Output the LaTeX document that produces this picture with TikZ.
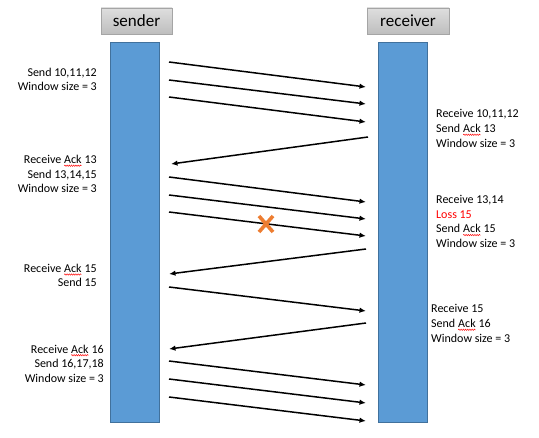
\documentclass[tikz,border=0pt]{standalone}
\usepackage{fontspec}
\setmainfont{Carlito}
\usetikzlibrary{arrows.meta,decorations.pathmorphing}
\newcommand\redwave[1]{\tikz[baseline=(w.base),x=1pt,y=1pt]{\node[inner sep=0pt,outer sep=0pt] (w) {#1};
  \draw[red,line width=0.45pt,decorate,decoration={snake,amplitude=0.7pt,segment length=2.2pt}]
    ([yshift=-2.2pt]w.base west) -- ([yshift=-2.2pt]w.base east);}}
\definecolor{barblue}{HTML}{5B9BD5}
\definecolor{barline}{HTML}{41719C}
\definecolor{hdrline}{HTML}{A5A5A5}
\definecolor{hdrtop}{HTML}{DEDEDE}
\definecolor{hdrbot}{HTML}{BEBEBE}
\definecolor{xorange}{HTML}{ED7D31}
\begin{document}
\begin{tikzpicture}[x=1pt,y=-1pt,
  header/.style={draw=hdrline, line width=0.8pt, top color=hdrtop, bottom color=hdrbot,
    inner sep=0pt, minimum height=26pt, font=\fontsize{17}{20}\selectfont},
  lifebar/.style={draw=barline, line width=0.8pt, fill=barblue, inner sep=0pt,
    minimum width=49pt, minimum height=380pt},
  msg/.style={line width=1.5pt, -{Latex[length=6.5pt,width=5.5pt]}},
  lbl/.style={inner sep=0pt, font=\fontsize{12}{14.6}\selectfont},
  lbll/.style={lbl, anchor=east, align=right},
  lblr/.style={lbl, anchor=west, align=left},
  lossmark/.style={draw=xorange, line width=3.6pt}
]
\useasboundingbox (0,0) rectangle (539,438);
% headers and bars
\node[header, minimum width=71pt] (sh) at (136.5,21) {sender};
\node[header, minimum width=82pt] (rh) at (408,21) {receiver};
\node[lifebar] (sb) at (134.5,232) {};
\node[lifebar] (rb) at (402.5,232) {};
% endpoints
\foreach \n/\y in {s1/62,s2/80,s3/97,s4/177,s5/195,s6/212,s7/287,s8/361,s9/379,s10/397}
  \coordinate (\n) at (169,\y);
\foreach \n/\y in {r1/87,r2/104,r3/122,r4/202,r5/219,r6/236,r7/311,r8/385,r9/403,r10/421}
  \coordinate (\n) at (366,\y);
\coordinate (ra1) at (368,137); \coordinate (sa1) at (171,164);
\coordinate (ra2) at (366,249); \coordinate (sa2) at (169,274);
\coordinate (ra3) at (366,323); \coordinate (sa3) at (169,349);
% data messages
\foreach \i in {1,...,10}
  \draw[msg] (s\i) -- (r\i);
% acks
\draw[msg] (ra1) -- (sa1);
\draw[msg] (ra2) -- (sa2);
\draw[msg] (ra3) -- (sa3);
% loss mark
\coordinate (lx) at (266,224);
\draw[lossmark] ([shift={(-7,-8)}]lx) -- ([shift={(7,8)}]lx);
\draw[lossmark] ([shift={(-7,8)}]lx) -- ([shift={(7,-8)}]lx);
% sender labels
\node[lbll] (l1) at (97,79.5) {Send 10,11,12\\Window size = 3};
\node[lbll] (l2) at (97,174) {Receive \redwave{Ack} 13\\Send 13,14,15\\Window size = 3};
\node[lbll] (l3) at (97,275.5) {Receive \redwave{Ack} 15\\Send 15};
\node[lbll] (l4) at (104,363.5) {Receive \redwave{Ack} 16\\Send 16,17,18\\Window size = 3};
% receiver labels
\node[lblr] (q1) at (436,128.5) {Receive 10,11,12\\Send \redwave{Ack} 13\\Window size = 3};
\node[lblr] (q2) at (436,221.5) {Receive 13,14\\\textcolor{red}{Loss 15}\\Send \redwave{Ack} 15\\Window size = 3};
\node[lblr] (q3) at (431,323.5) {Receive 15\\Send \redwave{Ack} 16\\Window size = 3};
\end{tikzpicture}
\end{document}
